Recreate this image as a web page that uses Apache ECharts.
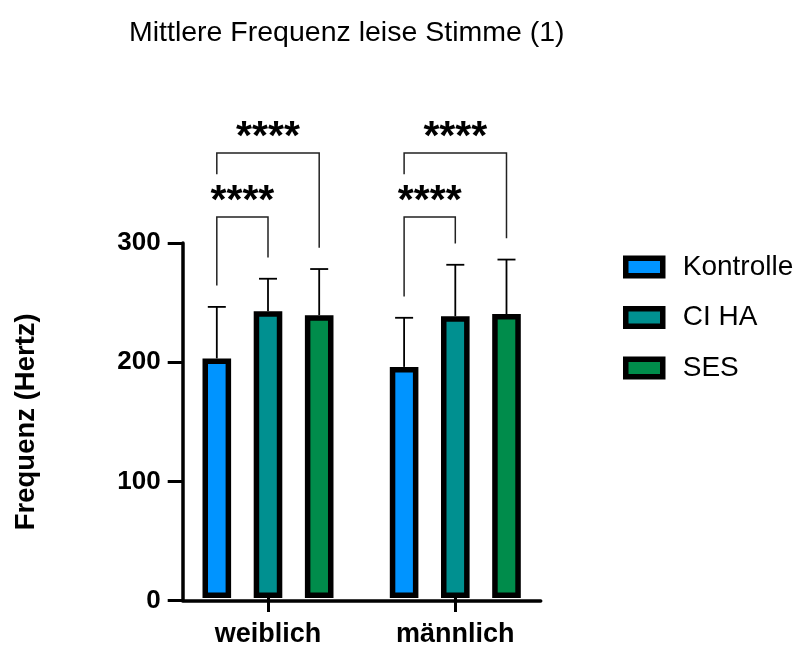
<!DOCTYPE html>
<html><head><meta charset="utf-8">
<script src="https://cdn.jsdelivr.net/npm/echarts@6/dist/echarts.min.js"></script>
<style>html,body{margin:0;padding:0;background:#fff}#c{width:798px;height:648px}</style>
</head><body><div id="c"></div>
<script>
// ---- data ----
const categories = ['weiblich', 'männlich'];
const seriesNames = ['Kontrolle', 'CI HA', 'SES'];
const kontrolle = [202.5, 195.3];
const ciHa = [242.3, 238.1];
const ses = [239, 240];
const kontrolleSD = [43.5, 41.5];
const ciHaSD = [27.5, 43.5];
const sesSD = [39, 46];
const yTicks = [0, 100, 200, 300];
// brackets: [categoryIndex, fromSeries, toSeries, level]
const brackets = [[0, 0, 1, 1], [0, 0, 2, 2], [1, 0, 1, 1], [1, 0, 2, 2]];
const bracketLabels = ['****', '****', '****', '****'];

// ---- layout / style ----
const FONT = "'Liberation Sans', Arial, Helvetica, sans-serif";
const colors = ['#0094FF', '#009090', '#008C4B'];
const barW = 28.6, barGapRatio = 0.79;
const levelValue = {1: 322, 2: 376};
const legGap = 18, legClear = 36;
const values = [kontrolle, ciHa, ses];
const sds = [kontrolleSD, ciHaSD, sesSD];
const step = barW * (1 + barGapRatio);
const GRID_TOP = 243, GRID_BOTTOM = 47.5;
const BORDER = 5.5;

const chart = echarts.init(document.getElementById('c'), null, {renderer: 'canvas'});

const barSeries = seriesNames.map((n, s) => ({
  type: 'bar', name: n, xAxisIndex: 0, yAxisIndex: 0,
  data: values[s], barWidth: barW, barGap: (barGapRatio * 100) + '%',
  itemStyle: {color: colors[s], borderColor: '#000', borderWidth: BORDER},
  z: 3, silent: true
}));

const errSeries = seriesNames.map((n, s) => ({
  type: 'custom', name: n + ' SD', xAxisIndex: 0, yAxisIndex: 0, z: 2, silent: true,
  data: values[s].map((v, i) => [i, v, sds[s][i]]),
  encode: {x: 0, y: 1},
  renderItem: (params, api) => {
    const c = api.coord([api.value(0), api.value(1)]);
    const t = api.coord([api.value(0), api.value(1) + api.value(2)]);
    const x = c[0] + (s - 1) * step;
    const st = {stroke: '#000', lineWidth: 1.8};
    return {type: 'group', children: [
      {type: 'line', shape: {x1: x, y1: c[1], x2: x, y2: t[1]}, style: st},
      {type: 'line', shape: {x1: x - 9, y1: t[1], x2: x + 9, y2: t[1]}, style: st}
    ]};
  }
}));

function legBottom(cat, s, level) {
  let b = values[s][cat] + sds[s][cat] + legGap;
  brackets.forEach(br => {
    if (br[0] === cat && br[3] < level && (br[1] === s || br[2] === s)) {
      b = Math.max(b, levelValue[br[3]] + legClear);
    }
  });
  return b;
}

const bracketSeries = {
  type: 'custom', name: 'sig', xAxisIndex: 0, yAxisIndex: 0, z: 4, silent: true, clip: false,
  data: brackets.map(b => [b[0], levelValue[b[3]], b[1], b[2], b[3]]),
  encode: {x: 0, y: 1},
  renderItem: (params, api) => {
    const cat = api.value(0), from = api.value(2), to = api.value(3), level = api.value(4);
    const top = api.coord([cat, levelValue[level]]);
    const x1 = top[0] + (from - 1) * step, x2 = top[0] + (to - 1) * step;
    const b1 = api.coord([cat, legBottom(cat, from, level)])[1];
    const b2 = api.coord([cat, legBottom(cat, to, level)])[1];
    return {type: 'group', children: [
      {type: 'polyline', shape: {points: [[x1, b1], [x1, top[1]], [x2, top[1]], [x2, b2]]},
       style: {stroke: '#222', lineWidth: 1.5, fill: null}},
      {type: 'text', style: {text: bracketLabels[params.dataIndex], x: (x1 + x2) / 2, y: top[1] - 15,
        align: 'center', verticalAlign: 'middle', fontSize: 41, fontWeight: 'bold', fontFamily: FONT, fill: '#000'}}
    ]};
  }
};

chart.setOption({
  animation: false,
  backgroundColor: '#fff',
  title: {text: 'Mittlere Frequenz leise Stimme (1)', left: 124, top: 14,
    textStyle: {fontSize: 28.5, fontWeight: 'normal', color: '#000', fontFamily: FONT}},
  legend: {
    data: seriesNames, orient: 'vertical', left: 618, top: 248, itemWidth: 37, itemHeight: 17.5, itemGap: 22.5,
    icon: 'rect',
    itemStyle: {borderColor: '#000', borderWidth: BORDER},
    textStyle: {fontSize: 28, color: '#000', fontFamily: FONT, padding: [0, 0, 0, 15]}
  },
  grid: [
    {left: 174.35, right: 249.05, top: GRID_TOP, bottom: GRID_BOTTOM},
    {left: 182.7, right: 257.3, top: GRID_TOP, bottom: GRID_BOTTOM}
  ],
  xAxis: [
    {type: 'category', gridIndex: 0, data: categories,
     axisLine: {show: false},
     axisTick: {show: true, alignWithLabel: true, length: 14, lineStyle: {color: '#000', width: 3}},
     axisLabel: {margin: 23, fontSize: 27, fontWeight: 'bold', color: '#000', fontFamily: FONT}},
    {type: 'value', gridIndex: 1, min: 0, max: 1,
     axisLine: {show: true, lineStyle: {color: '#000', width: 3.5}},
     axisTick: {show: false}, axisLabel: {show: false}, splitLine: {show: false}}
  ],
  yAxis: [
    {type: 'value', gridIndex: 0, min: 0, max: 300, show: false, splitLine: {show: false}},
    {type: 'value', gridIndex: 1, min: 0, max: 300, interval: 100,
     name: 'Frequenz (Hertz)', nameLocation: 'middle', nameRotate: 90, nameGap: 142,
     nameTextStyle: {fontSize: 27.5, fontWeight: 'bold', color: '#000', fontFamily: FONT},
     axisLine: {show: true, lineStyle: {color: '#000', width: 3.5}},
     axisTick: {show: true, length: 15, lineStyle: {color: '#000', width: 3}},
     axisLabel: {margin: 22, fontSize: 26, fontWeight: 'bold', color: '#000', fontFamily: FONT,
       formatter: v => (yTicks.indexOf(v) >= 0 ? String(v) : '')},
     splitLine: {show: false}}
  ],
  series: [...barSeries, ...errSeries, bracketSeries]
});
</script></body></html>
